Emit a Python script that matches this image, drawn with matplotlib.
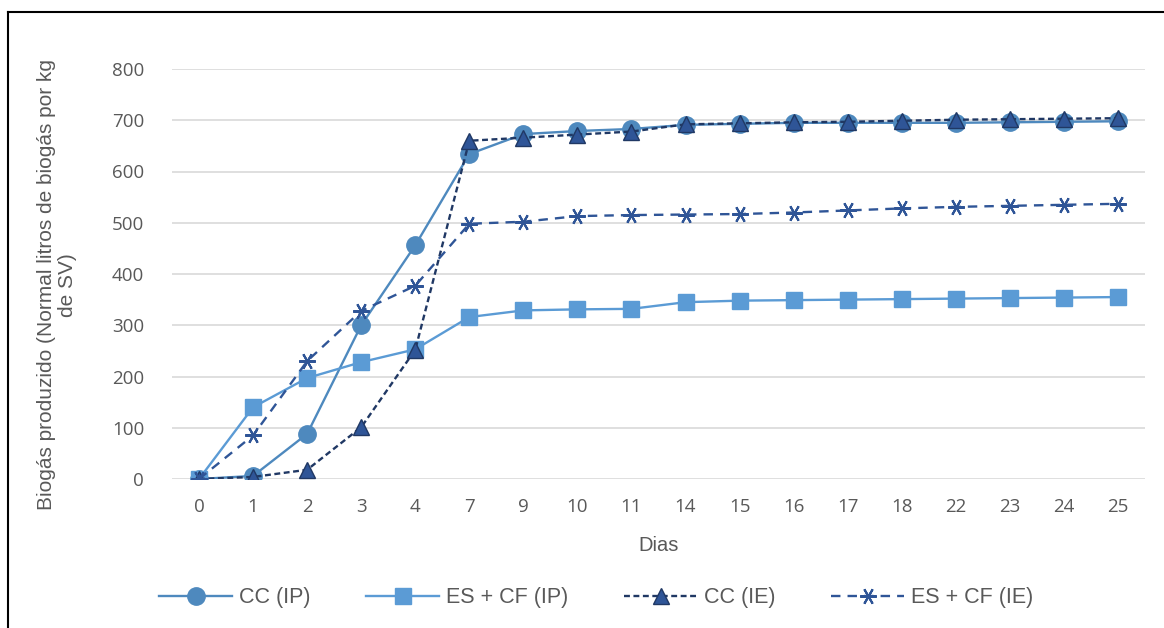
import matplotlib
matplotlib.use('Agg')
import matplotlib.pyplot as plt
from matplotlib.lines import Line2D

dias = ['0', '1', '2', '3', '4', '7', '9', '10', '11', '14', '15', '16', '17', '18', '22', '23', '24', '25']
cc_ip = [0, 6, 88, 300, 456, 634, 673, 679, 683, 691, 693, 695, 695, 695, 695, 696, 697, 698]
es_cf_ip = [0, 140, 197, 228, 253, 316, 329, 331, 332, 345, 348, 349, 350, 351, 352, 353, 354, 355]
cc_ie = [0, 4, 18, 101, 252, 660, 666, 672, 678, 692, 694, 696, 697, 699, 701, 702, 703, 704]
es_cf_ie = [0, 85, 230, 328, 377, 498, 502, 513, 515, 516, 517, 520, 524, 528, 531, 533, 535, 537]

fig = plt.figure(figsize=(11.64, 6.28), dpi=100)
ax = fig.add_axes([172 / 1164, 1 - 479 / 628, (1145 - 172) / 1164, (479 - 69) / 628])

x = range(len(dias))
ax.plot(x, cc_ip, color='#4E89BE', lw=1.7, marker='o', ms=12.5, label='CC (IP)', zorder=3)
ax.plot(x, es_cf_ip, color='#5B9BD5', lw=1.7, marker='s', ms=11, label='ES + CF (IP)', zorder=3)
ax.plot(x, cc_ie, color='#203864', lw=1.7, ls=(0, (2.5, 1.5)), marker='^', ms=11,
        mfc='#2F5597', mec='#203864', label='CC (IE)', zorder=4)
ax.plot(x, es_cf_ie, color='#2F5597', lw=1.7, ls=(0, (4, 3)), marker=(6, 2, 90), ms=12,
        mew=1.5, label='ES + CF (IE)', zorder=4)

ax.set_xlim(-0.5, len(dias) - 0.5)
ax.set_ylim(0, 800)
ax.set_yticks(range(0, 801, 100))
ax.set_xticks(list(x))
ax.set_xticklabels(dias)
ax.grid(axis='y', color='#D9D9D9', lw=1.2)
ax.set_axisbelow(True)
for s in ax.spines.values():
    s.set_visible(False)
ax.tick_params(length=0, labelsize=13.5, labelcolor='#595959')
for t in ax.get_xticklabels() + ax.get_yticklabels():
    t.set_fontfamily('Open Sans')
ax.tick_params(axis='x', pad=14)
ax.tick_params(axis='y', pad=20)

ax.set_xlabel('Dias', fontsize=14.5, color='#595959', family='Liberation Sans', labelpad=14)
fig.text(57 / 1164, 1 - 285 / 628, 'Biogás produzido (Normal litros de biogás por kg\nde SV)',
         rotation=90, ha='center', va='center', fontsize=15, color='#595959',
         family='Liberation Sans', linespacing=1.15)

fig.legend(loc='center', bbox_to_anchor=(0.512, 1 - 598 / 628), ncol=4, frameon=False,
           prop={'family': 'Liberation Sans', 'size': 15.5}, handlelength=3.4,
           columnspacing=2.6, handletextpad=0.3, labelcolor='#595959')

fig.add_artist(Line2D([8 / 1164, 8 / 1164], [0, 1 - 12 / 628], color='black', lw=1.5,
                      transform=fig.transFigure))
fig.add_artist(Line2D([8 / 1164, 1], [1 - 12 / 628, 1 - 12 / 628], color='black', lw=1.5,
                      transform=fig.transFigure))

fig.savefig('out.png', dpi=100)
